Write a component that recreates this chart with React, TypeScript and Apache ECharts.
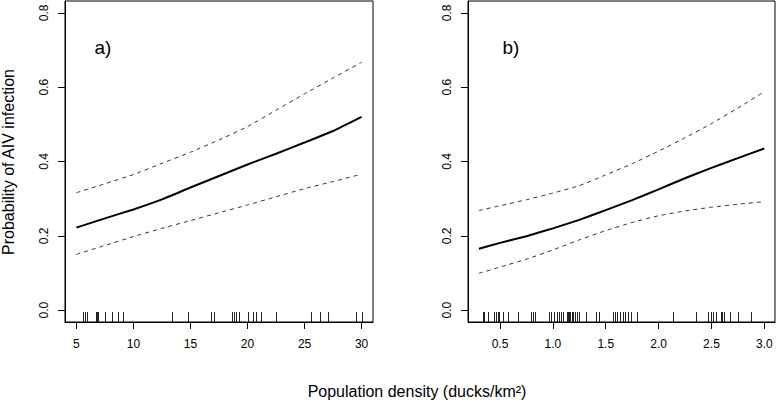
import React, { useEffect, useRef } from "react";
import * as echarts from "echarts";

// ---- data ----
const X_A = [5, 7.5, 10, 12.5, 15, 17.5, 20, 22.5, 25, 27.5, 30];
const MEAN_A = [0.222, 0.247, 0.271, 0.298, 0.33, 0.361, 0.392, 0.421, 0.451, 0.482, 0.52];
const UPPER_A = [0.316, 0.34, 0.365, 0.395, 0.425, 0.458, 0.494, 0.538, 0.582, 0.625, 0.667];
const LOWER_A = [0.15, 0.174, 0.198, 0.22, 0.241, 0.262, 0.283, 0.305, 0.327, 0.346, 0.366];
const RUG_A = [
  5.61, 5.79, 5.93, 6.69, 6.78, 6.93, 7.51, 8.16, 8.62, 9.06, 13.42, 14.82, 16.84, 17.1,
  18.68, 18.83, 18.97, 19.24, 20.03, 20.49, 20.73, 21.2, 22.54, 25.55, 26.34, 27.04, 29.5, 30.0,
];

const X_B = [0.3, 0.5, 0.75, 1.0, 1.25, 1.5, 1.75, 2.0, 2.25, 2.5, 2.75, 3.0];
const MEAN_B = [0.165, 0.181, 0.199, 0.22, 0.243, 0.269, 0.296, 0.325, 0.355, 0.383, 0.409, 0.435];
const UPPER_B = [0.268, 0.281, 0.297, 0.315, 0.335, 0.364, 0.394, 0.428, 0.464, 0.502, 0.544, 0.588];
const LOWER_B = [0.099, 0.116, 0.137, 0.162, 0.189, 0.214, 0.236, 0.254, 0.267, 0.277, 0.285, 0.292];
const RUG_B = [
  0.336, 0.352, 0.384, 0.443, 0.462, 0.478, 0.494, 0.525, 0.579, 0.673, 0.796, 0.815, 0.834,
  0.96, 0.982, 1.007, 1.036, 1.058, 1.08, 1.099, 1.13, 1.143, 1.152, 1.165, 1.177, 1.193, 1.205,
  1.225, 1.247, 1.31, 1.404, 1.436, 1.565, 1.587, 1.609, 1.637, 1.663, 1.685, 1.71, 1.735, 1.792,
  2.138, 2.356, 2.466, 2.491, 2.516, 2.541, 2.589, 2.598, 2.614, 2.623, 2.677, 2.753, 2.872,
];

const X_TICKS_A = [5, 10, 15, 20, 25, 30];
const X_TICKS_B = [0.5, 1.0, 1.5, 2.0, 2.5, 3.0];
const Y_TICKS = [0, 0.2, 0.4, 0.6, 0.8];

const PANEL_LABELS = ["a)", "b)"];
const Y_TITLE = "Probability of AIV infection";
const X_TITLE = "Population density (ducks/km²)";

const Y_MIN = -0.032;
const Y_MAX = 0.832;
const FONT = "Liberation Sans, Arial, Helvetica, sans-serif";

function pairs(xs: number[], ys: number[]) {
  return xs.map((x, i) => [x, ys[i]]);
}

function xAxisCfg(gridIndex: number, min: number, max: number, ticks: number[], digits: number) {
  return {
    type: "value",
    gridIndex,
    min,
    max,
    axisLine: { show: true, onZero: false, lineStyle: { color: "#000", width: 1 } },
    axisTick: { show: true, customValues: ticks, length: 7, lineStyle: { color: "#000" } },
    axisLabel: {
      customValues: ticks,
      color: "#000",
      fontSize: 12,
      fontFamily: FONT,
      margin: 16,
      formatter: (v: number) => v.toFixed(digits),
    },
    splitLine: { show: false },
  };
}

function yAxisCfg(gridIndex: number) {
  return {
    type: "value",
    gridIndex,
    min: Y_MIN,
    max: Y_MAX,
    axisLine: { show: true, onZero: false, lineStyle: { color: "#000", width: 1 } },
    axisTick: { show: true, customValues: Y_TICKS, length: 7, lineStyle: { color: "#000" } },
    axisLabel: {
      customValues: Y_TICKS,
      color: "#000",
      fontSize: 12,
      fontFamily: FONT,
      rotate: 90,
      margin: 15,
      formatter: (v: number) => v.toFixed(1),
    },
    splitLine: { show: false },
  };
}

function curveSeries(idx: number, data: number[][], dashed: boolean) {
  return {
    type: "line",
    xAxisIndex: idx,
    yAxisIndex: idx,
    data,
    smooth: 0.15,
    symbol: "none",
    silent: true,
    lineStyle: dashed
      ? { color: "#333", width: 1, type: [4, 4] }
      : { color: "#000", width: 2, type: "solid" },
  };
}

function rugSeries(idx: number, vals: number[]) {
  return {
    type: "custom",
    xAxisIndex: idx,
    yAxisIndex: idx,
    silent: true,
    data: vals.map((v) => [v, Y_MIN]),
    renderItem: (_params: any, api: any) => {
      const p = api.coord([api.value(0), Y_MIN]);
      const x = Math.round(p[0]) + 0.5;
      return {
        type: "line",
        shape: { x1: x, y1: p[1], x2: x, y2: p[1] - 10 },
        style: { stroke: "#222", lineWidth: 1 },
      };
    },
  };
}

export default function App() {
  const ref = useRef<HTMLDivElement>(null);
  useEffect(() => {
    if (!ref.current) return;
    const chart = echarts.init(ref.current, undefined, { renderer: "svg" });
    chart.setOption({
      animation: false,
      backgroundColor: "#fff",
      grid: [
        { left: 65, top: 1, width: 308, height: 321, show: true, borderColor: "#000", borderWidth: 1, backgroundColor: "transparent" },
        { left: 468, top: 1, width: 307, height: 321, show: true, borderColor: "#000", borderWidth: 1, backgroundColor: "transparent" },
      ],
      xAxis: [
        xAxisCfg(0, 4, 31, X_TICKS_A, 0),
        xAxisCfg(1, 0.197, 3.101, X_TICKS_B, 1),
      ],
      yAxis: [yAxisCfg(0), yAxisCfg(1)],
      series: [
        curveSeries(0, pairs(X_A, UPPER_A), true),
        curveSeries(0, pairs(X_A, LOWER_A), true),
        curveSeries(0, pairs(X_A, MEAN_A), false),
        rugSeries(0, RUG_A),
        curveSeries(1, pairs(X_B, UPPER_B), true),
        curveSeries(1, pairs(X_B, LOWER_B), true),
        curveSeries(1, pairs(X_B, MEAN_B), false),
        rugSeries(1, RUG_B),
      ],
      graphic: [
        {
          type: "text",
          x: 103,
          y: 47,
          style: { text: PANEL_LABELS[0], fontSize: 19, fontFamily: FONT, fill: "#000", textAlign: "center", textVerticalAlign: "middle" },
        },
        {
          type: "text",
          x: 511,
          y: 47,
          style: { text: PANEL_LABELS[1], fontSize: 19, fontFamily: FONT, fill: "#000", textAlign: "center", textVerticalAlign: "middle" },
        },
        {
          type: "text",
          x: 8,
          y: 162,
          rotation: Math.PI / 2,
          style: { text: Y_TITLE, fontSize: 16, fontFamily: FONT, fill: "#000", textAlign: "center", textVerticalAlign: "middle" },
        },
        {
          type: "text",
          x: 417,
          y: 391,
          style: { text: X_TITLE, fontSize: 16, fontFamily: FONT, fill: "#000", textAlign: "center", textVerticalAlign: "middle" },
        },
      ],
    });
    return () => chart.dispose();
  }, []);
  return (
    <div
      ref={ref}
      style={{ position: "absolute", left: 0, top: 0, width: 776, height: 403, background: "#fff" }}
    />
  );
}
